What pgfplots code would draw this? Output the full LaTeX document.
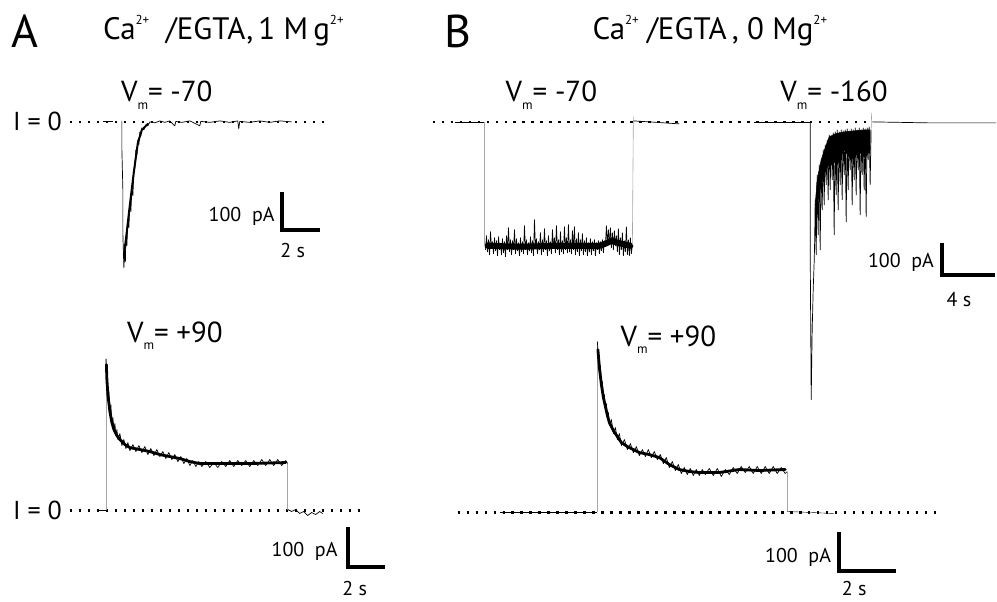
\documentclass[border=0pt]{standalone}
\usepackage{fontspec}
\setmainfont{PT Sans}
\usepackage{pgfplots}
\pgfplotsset{compat=1.18}

\newcommand\ionsup[1]{\raisebox{0.5em}{\fontsize{13}{13}\selectfont #1}}
\newcommand\vm[1]{V\raisebox{-0.25em}{\fontsize{13}{13}\selectfont m}=\ #1}
\tikzset{
  trace/.style={black, line width=0.7pt, line join=round},
  band/.style={black, line cap=round, line join=round},
  jump/.style={gray!70, line width=0.6pt},
  zero/.style={black, line width=2.3pt, dash pattern=on 2.3pt off 6.7pt},
  bar/.style={black, line width=4pt, line join=miter},
}

\begin{document}
\begin{tikzpicture}
\begin{axis}[
    x=1pt, y=1pt, y dir=reverse,
    xmin=0, xmax=997, ymin=0, ymax=602,
    hide axis, clip=false,
]
% page frame
\addplot[draw=none] coordinates {(0,0) (997,602)};

% ---------- panel A, Vm = -70 ----------
\addplot[zero] coordinates {(70,122) (328,122)};
\addplot[trace] coordinates {(103,121.5) (113,121.5)};
\addplot[band, line width=2pt] coordinates {
  (124,255) (126,240) (130,205) (134,172) (138,143) (142,130) (148,124)};
\addplot[trace] coordinates {
  (122,121) (122,150) (123,190) (123,235) (124,268) (125,250) (125.5,262)
  (126,238) (127,246) (128,222) (129,228) (130,205) (131,212) (132,190)
  (133,196) (134,172) (135,168) (136,150) (137,155) (138,140) (139,145)
  (140,132) (141,136) (142,128) (144,130) (146,125) (148,126) (150,122)
  (155,123) (160,121) (165,122.5) (170,121) (175,126) (176,121.5) (182,122.5)
  (190,121) (200,126) (201,121.5) (210,122.5) (220,121) (230,122.5) (238,121)
  (239,129) (240,121.5) (250,122.5) (260,121) (270,122.5) (280,121) (292,122)
};

% ---------- panel A, Vm = +90 ----------
\addplot[zero] coordinates {(70,511) (360,511)};
\addplot[trace] coordinates {(97,511) (106,511)};
\addplot[jump] coordinates {(106,511) (106,359)};
\addplot[band, line width=2.8pt] coordinates {
  (106.5,365) (107,380) (108,395) (110,412) (112,423) (114,430) (117,436)
  (120,440) (125,445) (130,448) (140,450) (150,452) (160,455) (170,457)
  (180,459) (190,462) (200,464) (220,464) (250,464) (286,463)};
\addplot[trace] coordinates {
  (106,359) (107,385) (107.5,375) (108,398) (109,392) (110,412) (111,405)
  (112,425) (113,418) (114,430) (115,424) (116,436) (117,430) (118,440)
  (120,434) (122,446) (124,440) (126,449) (128,443) (130,451) (133,445)
  (136,452) (139,446) (142,453) (145,447) (148,455) (151,449) (154,456)
  (157,450) (160,457) (163,452) (166,459) (169,453) (172,460) (175,455)
  (178,462) (181,457) (184,464) (187,459) (190,466) (193,461) (196,467)
  (199,462) (202,467) (206,462) (210,468) (214,463) (218,468) (222,462)
  (226,467) (230,461) (234,467) (238,461) (242,466) (246,461) (250,467)
  (254,461) (258,466) (262,460) (266,466) (270,460) (274,466) (278,460)
  (282,466) (286,461) (288,464)
};
\addplot[jump] coordinates {(288,464) (288,511)};
\addplot[trace] coordinates {
  (288,510) (292,512) (296,510) (300,514) (304,512) (308,516) (312,513)
  (316,515) (320,512) (323,514)
};

% ---------- panel B, Vm = -70 ----------
\addplot[zero] coordinates {(433,122) (872,122)};
\addplot[trace] coordinates {(455,122) (485,122)};
\addplot[jump] coordinates {(485,122) (485,245)};
\addplot[band, line width=6pt] coordinates {
  (488,246) (520,247) (560,246) (600,246) (606,244) (612,241) (618,243) (631,246)};
\addplot[trace] coordinates {
  (486,250) (487,236) (488,252) (489,240) (490,255) (491,232) (492,248)
  (493,242) (494,254) (495,238) (496,251) (497,241) (498,256) (499,237)
  (500,250) (501,244) (502,255) (503,239) (504,253) (505,242) (506,257)
  (507,236) (508,250) (509,228) (510,252) (511,240) (512,255) (513,241)
  (514,250) (515,230) (516,254) (517,239) (518,251) (519,243) (520,256)
  (521,238) (522,252) (523,242) (524,254) (525,226) (526,250) (527,240)
  (528,255) (529,243) (530,251) (531,237) (532,253) (533,241) (534,256)
  (535,220) (536,249) (537,239) (538,254) (539,242) (540,250) (541,233)
  (542,255) (543,240) (544,252) (545,229) (546,250) (547,241) (548,256)
  (549,236) (550,251) (551,242) (552,254) (553,230) (554,249) (555,238)
  (556,253) (557,226) (558,250) (559,240) (560,255) (561,232) (562,252)
  (563,241) (564,254) (565,227) (566,250) (567,238) (568,253) (569,225)
  (570,252) (571,240) (572,254) (573,231) (574,250) (575,227) (576,255)
  (577,239) (578,252) (579,233) (580,256) (581,240) (582,251) (583,234)
  (584,255) (585,241) (586,252) (587,238) (588,256) (589,243) (590,252)
  (591,239) (592,255) (593,242) (594,251) (595,240) (596,256) (597,243)
  (598,250) (599,241) (600,254) (601,242) (602,251) (603,240) (604,253)
  (605,241) (606,246) (607,226) (608,244) (609,230) (610,245) (611,228)
  (612,248) (613,233) (614,250) (615,231) (616,246) (617,236) (618,252)
  (619,229) (620,255) (621,238) (622,250) (623,233) (624,256) (625,241)
  (626,252) (627,227) (628,255) (629,240) (630,256) (631,238) (632,254)
  (633,245)
};
\addplot[jump] coordinates {(633,245) (634,117)};
\addplot[trace] coordinates {(634,121) (650,122) (665,123) (680,124)};

% ---------- panel B, Vm = -160 ----------
\addplot[trace] coordinates {(755,122) (811,122)};
\addplot[fill=black, draw=black, line width=0.5pt] coordinates {
  (816,205) (818,180) (822,160) (826,148) (830,137) (836,134) (845,132)
  (855,131) (865,130) (871,130) (871,150) (866,158) (860,152) (852,160)
  (845,150) (838,165) (832,160) (826,172) (822,185) (819,200) (817,225)
} -- cycle;
\addplot[trace] coordinates {
  (811,122) (811,250) (812,400) (813,330) (814,290) (815,262) (815.5,240)
  (816,200) (817,255) (818,175) (819,235) (820,165) (821,250) (822,160)
  (823,210) (824,150) (825,205) (826,145) (827,185) (828,140) (829,200)
  (830,135) (831,190) (832,137) (833,180) (834,133) (835,235) (836,132)
  (837,195) (838,130) (839,210) (840,132) (841,185) (842,130) (843,200)
  (844,131) (845,175) (846,130) (847,222) (848,129) (849,190) (850,131)
  (851,170) (852,129) (853,205) (854,130) (855,180) (856,128) (857,195)
  (858,130) (859,170) (860,128) (861,215) (862,130) (863,175) (864,128)
  (865,190) (866,129) (867,217) (868,128) (869,160) (870,127) (871,185)
  (872,130)
};
\addplot[jump] coordinates {(872,130) (872.5,113)};
\addplot[trace] coordinates {(873,122) (930,123) (997,123)};

% ---------- panel B, Vm = +90 ----------
\addplot[zero] coordinates {(458,513) (938,513)};
\addplot[trace, line width=0.4pt] coordinates {(500,513) (598,513)};
\addplot[jump] coordinates {(598,513) (598,342)};
\addplot[band, line width=2.8pt] coordinates {
  (598.5,350) (600,368) (602,385) (604,398) (606,407) (608,416) (610,423)
  (614,431) (618,437) (622,443) (628,447) (634,450) (640,453) (650,455)
  (660,458) (670,465) (680,470) (690,472) (700,473) (720,473) (740,470)
  (760,471) (786,470)};
\addplot[trace] coordinates {
  (598,342) (599,360) (600,372) (601,366) (602,388) (603,382) (604,400)
  (605,395) (606,410) (607,404) (608,418) (609,413) (610,426) (612,420)
  (614,434) (616,428) (618,440) (620,434) (622,446) (625,440) (628,450)
  (631,444) (634,453) (637,447) (640,456) (643,450) (646,457) (649,450)
  (652,458) (655,452) (658,460) (661,455) (664,464) (667,458) (670,468)
  (673,462) (676,471) (679,465) (682,474) (685,468) (688,475) (691,469)
  (694,476) (697,470) (700,476) (703,470) (706,475) (710,469) (714,476)
  (718,469) (722,477) (726,470) (730,475) (734,468) (738,474) (742,467)
  (746,473) (750,467) (754,474) (758,467) (762,474) (766,467) (770,474)
  (774,467) (778,474) (782,468) (786,474) (788,472)
};
\addplot[jump] coordinates {(788,472) (788,513)};
\addplot[trace, line width=0.4pt] coordinates {(788,512) (835,514)};

% ---------- scale bars ----------
\addplot[bar] coordinates {(282,192) (282,230) (320,230)};
\addplot[bar] coordinates {(348,528) (348,568) (385,568)};
\addplot[bar] coordinates {(943,243) (943,275) (996,275)};
\addplot[bar] coordinates {(840,533) (840,572) (897,572)};

% ---------- text ----------
\begin{scope}[every node/.style={inner sep=0pt}]
\node[anchor=base west, font=\fontsize{46}{48}\selectfont] at (axis cs:11,48) {A};
\node[anchor=base west, font=\fontsize{46}{48}\selectfont] at (axis cs:445,48) {B};
\node[anchor=base west, font=\fontsize{31}{34}\selectfont] at (axis cs:103,40)
  {Ca\ionsup{2+}\ \ /EGTA,\,1 M\,g\ionsup{2+}};
\node[anchor=base west, font=\fontsize{31}{34}\selectfont] at (axis cs:593,40)
  {Ca\ionsup{2+} /EGTA\,, 0 Mg\ionsup{2+}};
\node[anchor=base west, font=\fontsize{29}{32}\selectfont] at (axis cs:121,102) {\vm{-70}};
\node[anchor=base west, font=\fontsize{29}{32}\selectfont] at (axis cs:127,343) {\vm{+90}};
\node[anchor=base west, font=\fontsize{29}{32}\selectfont] at (axis cs:506,102) {\vm{-70}};
\node[anchor=base west, font=\fontsize{29}{32}\selectfont] at (axis cs:781,102) {\vm{-160}};
\node[anchor=base west, font=\fontsize{29}{32}\selectfont] at (axis cs:621,347) {\vm{+90}};
\node[anchor=base west, font=\fontsize{26}{30}\selectfont] at (axis cs:13,131) {I = 0};
\node[anchor=base west, font=\fontsize{26}{30}\selectfont] at (axis cs:13,520) {I = 0};
\node[anchor=base east, font=\fontsize{20}{24}\selectfont] at (axis cs:275,222) {100\ \ pA};
\node[anchor=base, font=\fontsize{20}{24}\selectfont] at (axis cs:293,258) {2 s};
\node[anchor=base east, font=\fontsize{20}{24}\selectfont] at (axis cs:338,557) {100\ \ pA};
\node[anchor=base, font=\fontsize{20}{24}\selectfont] at (axis cs:355,596) {2 s};
\node[anchor=base east, font=\fontsize{20}{24}\selectfont] at (axis cs:935,268) {100\ \ pA};
\node[anchor=base, font=\fontsize{20}{24}\selectfont] at (axis cs:960,307) {4 s};
\node[anchor=base east, font=\fontsize{20}{24}\selectfont] at (axis cs:832,563) {100\ \ pA};
\node[anchor=base, font=\fontsize{20}{24}\selectfont] at (axis cs:855,596) {2 s};
\end{scope}
\end{axis}
\end{tikzpicture}
\end{document}
